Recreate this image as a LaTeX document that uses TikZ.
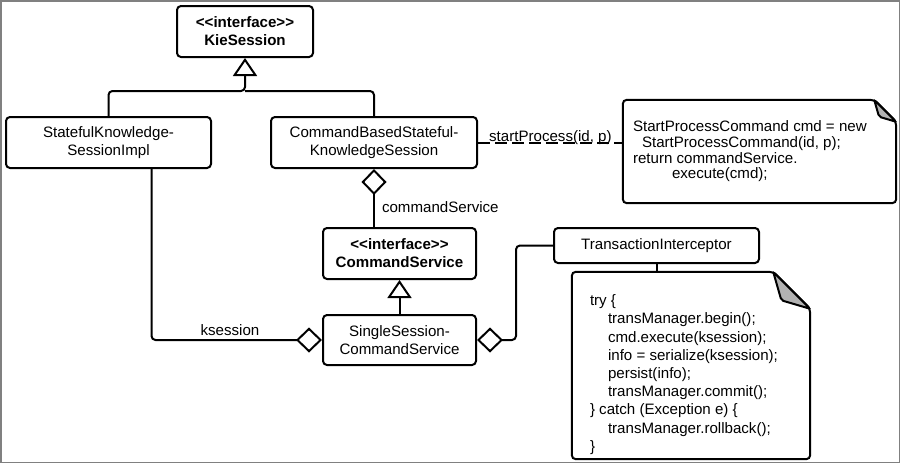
\documentclass[tikz,border=0pt]{standalone}
\usepackage{fontspec}
\setmainfont{Liberation Sans}[Ligatures=TeXOff]
\usetikzlibrary{arrows.meta,calc}

\definecolor{framegray}{RGB}{128,128,128}
\definecolor{foldgray}{RGB}{178,178,178}

\newcommand{\umlfont}{\fontsize{15.1}{18}\selectfont}
\newcommand{\dogear}[2]{%
  \draw[link] ([xshift=-#2pt]#1.north east) -- (#1.north west) -- (#1.south west)
    -- (#1.south east) -- ([yshift=-#2pt]#1.north east) -- cycle;
  \filldraw[link, fill=foldgray, rounded corners=2pt] ([xshift=-#2pt]#1.north east)
    -- ([xshift={-0.78*#2pt}, yshift={-0.77*#2pt}]#1.north east)
    -- ([yshift=-#2pt]#1.north east) -- cycle;
}

\tikzset{
  umlbox/.style={draw, line width=2pt, rounded corners=4pt, align=center, inner sep=0pt},
  link/.style={line width=2pt, rounded corners=4pt},
  generalize/.style={link, -{Triangle[open, width=24pt, length=18pt]}},
  compose/.style={link, {Diamond[open, width=25pt, length=26pt]}-},
  notebody/.style={inner sep=0pt},
  codetext/.style={align=left, inner sep=0pt, anchor=west},
}

\begin{document}
\begin{tikzpicture}[x=1pt, y=-1pt, font=\umlfont]
  \useasboundingbox (0,0) rectangle (900,463);
  \draw[framegray, line width=1.5pt] (0.75,0.75) rectangle (899.25,462.25);

  % classes
  \node[umlbox, minimum width=136pt, minimum height=51pt, font=\umlfont\bfseries] (kie) at (245,31.5) {<<interface>>\\KieSession};
  \node[umlbox, minimum width=205pt, minimum height=51pt] (skimpl) at (108.5,142.5) {StatefulKnowledge-\\SessionImpl};
  \node[umlbox, minimum width=206pt, minimum height=51pt] (cbsks) at (374,142.5) {CommandBasedStateful-\\KnowledgeSession};
  \node[umlbox, minimum width=153pt, minimum height=51pt, font=\umlfont\bfseries] (cmdsvc) at (399.5,253.5) {<<interface>>\\CommandService};
  \node[umlbox, minimum width=153pt, minimum height=50pt] (single) at (399.5,340) {SingleSession-\\CommandService};
  \node[umlbox, minimum width=205pt, minimum height=35pt] (ti) at (656.5,245.5) {TransactionInterceptor};

  % notes
  \node[notebody, minimum width=273pt, minimum height=103pt] (note1) at (759.5,151.5) {};
  \node[notebody, minimum width=238pt, minimum height=187pt] (note2) at (691,365.5) {};
  \dogear{note1}{22}
  \dogear{note2}{37}
  \node[codetext, font=\fontsize{15.1}{15.7}\selectfont] (code1) at ([xshift=10pt]note1.west)
    {StartProcessCommand cmd = new\\\hspace*{9pt}StartProcessCommand(id, p);\\return commandService.\\\hspace*{39pt}execute(cmd);};
  \node[codetext, font=\fontsize{15.1}{18.2}\selectfont] (code2) at ([xshift=18pt, yshift=-9pt]note2.west)
    {try \{\\\hspace*{18pt}transManager.begin();\\\hspace*{18pt}cmd.execute(ksession);\\\hspace*{18pt}info = serialize(ksession);\\\hspace*{18pt}persist(info);\\\hspace*{18pt}transManager.commit();\\\} catch (Exception e) \{\\\hspace*{18pt}transManager.rollback();\\\}};

  % connectors
  \coordinate (kiejoin) at (245,91);
  \draw[generalize] (skimpl.north) |- (kiejoin) -- (kie.south);
  \draw[link] (cbsks.north) |- (kiejoin);
  \draw[compose] (cbsks.south) -- node[right, pos=0.65, inner xsep=7pt] {commandService} (cbsks.south |- cmdsvc.north);
  \draw[generalize] (single.north) -- (cmdsvc.south);
  \draw[compose] (single.west) -| node[above, pos=0.27] {ksession} ([xshift=43pt]skimpl.south);
  \draw[compose] (single.east) -- ++(39,0) |- (ti.west);
  \draw[link] (ti.south) -- (ti.south |- note2.north);
  \draw[link, dash pattern=on 12pt off 5pt] (cbsks.east) -- node[anchor=base, yshift=1pt] {startProcess(id, p)} (note1.west |- cbsks.east);
\end{tikzpicture}
\end{document}
